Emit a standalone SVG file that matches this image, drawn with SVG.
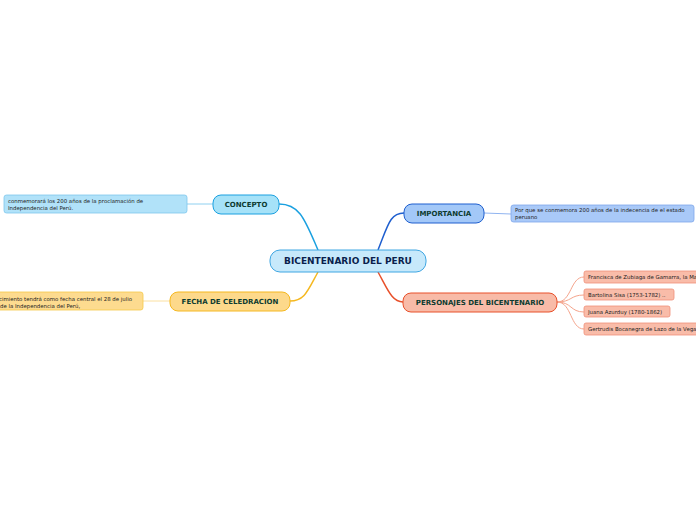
<svg xmlns="http://www.w3.org/2000/svg" width="696" height="520" viewBox="0 0 696 520">
<style>
.t{font-family:"DejaVu Sans",Verdana,sans-serif;font-weight:bold;fill:#0d3b30}
.l{font-family:"DejaVu Sans",Verdana,sans-serif;font-size:5.4px;fill:#222}
.e{fill:none}
</style>
<rect width="696" height="520" fill="#fff"/>
<g id="connectors">
<path class="e" d="M318,250 C305,220 300,204 279,204" stroke="#1aa0e0" stroke-width="1.5"/>
<path class="e" d="M378,250 C388,225 390,213 404,213" stroke="#1f5fcf" stroke-width="1.5"/>
<path class="e" d="M318,272 C308,290 305,301 290,301" stroke="#f5b820" stroke-width="1.5"/>
<path class="e" d="M378,272 C388,290 392,302 403,302" stroke="#e8502a" stroke-width="1.5"/>
<path class="e" d="M213,204 L187,204" stroke="#8fd0f0" stroke-width="1"/>
<path class="e" d="M484,213 L511,214" stroke="#90b4f0" stroke-width="1"/>
<path class="e" d="M170,301 L143,301" stroke="#fbe0a0" stroke-width="1"/>
<path class="e" d="M557,302 C572,302 570,277 584,277" stroke="#f5a48c" stroke-width="1"/>
<path class="e" d="M557,302 C572,302 570,295 584,295" stroke="#f5a48c" stroke-width="1"/>
<path class="e" d="M557,302 C572,302 570,312 584,312" stroke="#f5a48c" stroke-width="1"/>
<path class="e" d="M557,302 C572,302 570,329 584,329" stroke="#f5a48c" stroke-width="1"/>
</g>
<g id="central">
<rect x="270" y="250" width="156" height="22" rx="10" fill="#c7e9fb" stroke="#3fa6e2" stroke-width="1"/>
<text class="t" x="348" y="264" font-size="9" text-anchor="middle" style="fill:#0a1f4d">BICENTENARIO DEL PERU</text>
</g>
<g id="concepto">
<rect x="213" y="195" width="66" height="19" rx="8" fill="#a6e2f8" stroke="#1aa0e0" stroke-width="1"/>
<text class="t" x="246" y="207" font-size="7" text-anchor="middle">CONCEPTO</text>
</g>
<g id="concepto-leaf">
<rect x="4" y="195" width="183" height="18" rx="2.5" fill="#b1e2f9" stroke="#7dc6ec" stroke-width="0.8"/>
<text class="l" x="8" y="202.5">conmemorará los 200 años de la proclamación de</text>
<text class="l" x="8" y="209.5">Independencia del Perú.</text>
</g>
<g id="importancia">
<rect x="404" y="204" width="80" height="19" rx="8" fill="#a3c8f8" stroke="#1f5fcf" stroke-width="1"/>
<text class="t" x="444" y="216" font-size="7" text-anchor="middle">IMPORTANCIA</text>
</g>
<g id="importancia-leaf">
<rect x="511" y="205" width="183" height="17" rx="2.5" fill="#a9c9f8" stroke="#7ea6ea" stroke-width="0.8"/>
<text class="l" x="515" y="212">Por que se conmemora 200 años de la indecencia de el estado</text>
<text class="l" x="515" y="219">peruano</text>
</g>
<g id="fecha">
<rect x="170" y="292" width="120" height="19" rx="8" fill="#fdd98b" stroke="#f5b820" stroke-width="1"/>
<text class="t" x="230" y="304" font-size="7" text-anchor="middle">FECHA DE CELEDRACION</text>
</g>
<g id="fecha-leaf">
<rect x="-40" y="292" width="183" height="18" rx="2.5" fill="#fddb8f" stroke="#f5c94a" stroke-width="0.8"/>
<text class="l" x="132" y="300.5" text-anchor="end">acontecimiento tendrá como fecha central el 28 de julio</text>
<text class="l" x="1" y="307.5" text-anchor="start" dx="-1">de la Independencia del Perú,</text>
</g>
<g id="personajes">
<rect x="403" y="293" width="154" height="19" rx="8" fill="#f8bba8" stroke="#e8502a" stroke-width="1"/>
<text class="t" x="480" y="305" font-size="7" text-anchor="middle">PERSONAJES DEL BICENTENARIO</text>
</g>
<g id="p1">
<rect x="584" y="271" width="120" height="12" rx="2" fill="#f9bca9" stroke="#f0917a" stroke-width="0.8"/>
<text class="l" x="588" y="279">Francisca de Zubiaga de Gamarra, la Mariscala</text>
</g>
<g id="p2">
<rect x="584" y="289" width="90" height="11" rx="2" fill="#f9bca9" stroke="#f0917a" stroke-width="0.8"/>
<text class="l" x="588" y="296.5">Bartolina Sisa (1753-1782) ..</text>
</g>
<g id="p3">
<rect x="584" y="306" width="86" height="11" rx="2" fill="#f9bca9" stroke="#f0917a" stroke-width="0.8"/>
<text class="l" x="588" y="313.5">Juana Azurduy (1780-1862)</text>
</g>
<g id="p4">
<rect x="584" y="323" width="120" height="12" rx="2" fill="#f9bca9" stroke="#f0917a" stroke-width="0.8"/>
<text class="l" x="588" y="331">Gertrudis Bocanegra de Lazo de la Vega</text>
</g>
</svg>
